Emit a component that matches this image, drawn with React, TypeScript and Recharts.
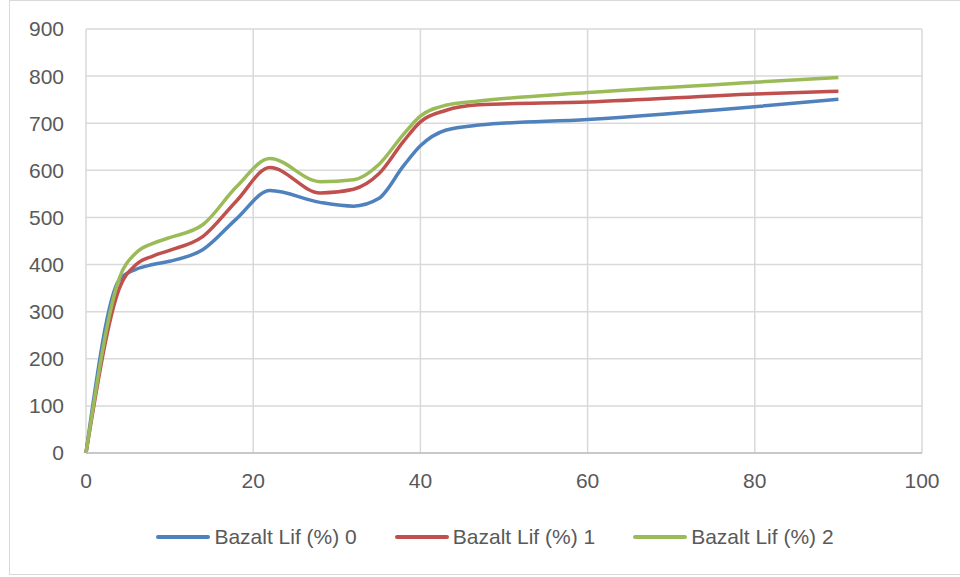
import React from "react";
import { LineChart, Line, XAxis, YAxis, CartesianGrid } from "recharts";

const xValues = [0, 4, 6, 8, 10, 14, 18, 22, 28, 32, 35, 38, 40, 43, 47, 60, 80, 90];
const lif0 = [0, 368, 390, 400, 407, 432, 497, 557, 532, 524, 540, 610, 652, 685, 696, 708, 735, 751];
const lif1 = [0, 350, 400, 418, 430, 460, 535, 606, 552, 560, 592, 662, 703, 727, 739, 745, 762, 768];
const lif2 = [0, 372, 425, 445, 457, 485, 565, 625, 576, 580, 612, 677, 715, 738, 747, 765, 787, 797];
const seriesNames = ["Bazalt Lif (%) 0", "Bazalt Lif (%) 1", "Bazalt Lif (%) 2"];
const seriesColors = ["#4f81bd", "#c0504d", "#9bbb59"];
const xTicks = [0, 20, 40, 60, 80, 100];
const yTicks = [0, 100, 200, 300, 400, 500, 600, 700, 800, 900];

const data = xValues.map((x, i) => ({ x, s0: lif0[i], s1: lif1[i], s2: lif2[i] }));

const FONT = "'Liberation Sans', Arial, sans-serif";
const FS = 21;

export default function App() {
  return (
    <div style={{ position: "absolute", left: 0, top: 0, width: 960, height: 577, background: "#fff", fontFamily: FONT }}>
      <div style={{ position: "absolute", left: 9, top: 0, width: 960, height: 575, border: "1px solid #d9d9d9", boxSizing: "border-box" }} />
      <div style={{ position: "absolute", left: 0, top: 0 }}>
        <LineChart width={960} height={577} data={data} margin={{ top: 29, right: 38, left: 0, bottom: 74 }}>
          <CartesianGrid stroke="#d9d9d9" strokeWidth={1.5} horizontal vertical />
          <XAxis
            dataKey="x"
            type="number"
            domain={[0, 100]}
            ticks={xTicks}
            axisLine={{ stroke: "#bfbfbf", strokeWidth: 1.5 }}
            tickLine={false}
            tick={{ fill: "#595959", fontSize: FS, fontFamily: FONT }}
            tickMargin={14}
            height={50}
          />
          <YAxis
            type="number"
            domain={[0, 900]}
            ticks={yTicks}
            axisLine={false}
            tickLine={false}
            tick={{ fill: "#595959", fontSize: FS, fontFamily: FONT }}
            tickMargin={16}
            width={86}
          />
          <Line type="monotone" dataKey="s0" name={seriesNames[0]} stroke={seriesColors[0]} strokeWidth={3.5} dot={false} isAnimationActive={false} />
          <Line type="monotone" dataKey="s1" name={seriesNames[1]} stroke={seriesColors[1]} strokeWidth={3.5} dot={false} isAnimationActive={false} />
          <Line type="monotone" dataKey="s2" name={seriesNames[2]} stroke={seriesColors[2]} strokeWidth={3.5} dot={false} isAnimationActive={false} />
        </LineChart>
      </div>
      <div style={{ position: "absolute", left: 0, top: 524, width: 990, display: "flex", justifyContent: "center", alignItems: "center", fontFamily: FONT, fontSize: FS, color: "#595959", lineHeight: "26px" }}>
        {seriesNames.map((n, i) => (
          <div key={n} style={{ display: "flex", alignItems: "center", marginRight: i < 2 ? 38 : 0 }}>
            <div style={{ width: 54, height: 4, background: seriesColors[i], borderRadius: 2, marginRight: 4 }} />
            <span>{n}</span>
          </div>
        ))}
      </div>
    </div>
  );
}
